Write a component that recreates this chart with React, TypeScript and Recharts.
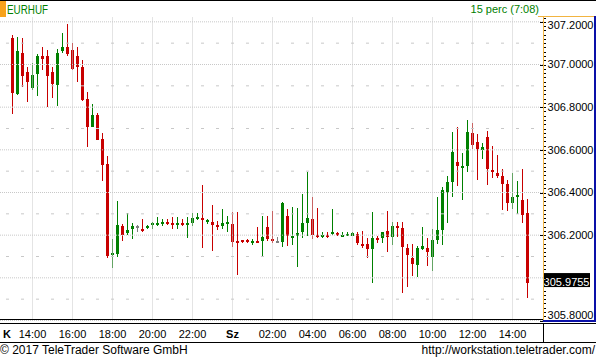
import React from 'react';
import { ComposedChart, Bar, XAxis, YAxis, ReferenceLine } from 'recharts';

// ---- data (EURHUF, 15 min candles, 13:00 .. 14:45 next day) ----
const opens = [
  307.122, 306.861, 307.056, 306.967, 306.888, 306.955, 307.038, 307.038, 306.967, 306.902,
  307.061, 307.080, 307.066, 307.038, 306.988, 306.836, 306.705, 306.763, 306.653, 306.533,
  306.105, 306.114, 306.245, 306.208, 306.227, 306.241, 306.231, 306.236, 306.250, 306.250,
  306.255, 306.264, 306.259, 306.255, 306.255, 306.250, 306.255, 306.281, 306.281, 306.263,
  306.263, 306.250, 306.245, 306.259, 306.253, 306.175, 306.178, 306.178, 306.170, 306.175,
  306.175, 306.239, 306.184, 306.175, 306.166, 306.291, 306.192, 306.198, 306.213, 306.258,
  306.277, 306.203, 306.192, 306.203, 306.206, 306.208, 306.198, 306.200, 306.198, 306.206,
  306.159, 306.159, 306.133, 306.187, 306.187, 306.220, 306.192, 306.244, 306.235, 306.140,
  306.093, 306.060, 306.136, 306.140, 306.098, 306.178, 306.225, 306.404, 306.451, 306.545,
  306.522, 306.526, 306.677, 306.639, 306.597, 306.658, 306.507, 306.493, 306.479, 306.442,
  306.352, 306.380, 306.366, 306.305,
];
const highs = [
  307.136, 307.131, 307.122, 306.986, 307.005, 307.047, 307.084, 307.070, 306.988, 307.075,
  307.150, 307.188, 307.103, 307.080, 307.019, 306.870, 306.817, 306.773, 306.681, 306.569,
  306.184, 306.358, 306.253, 306.302, 306.255, 306.250, 306.278, 306.250, 306.264, 306.283,
  306.278, 306.278, 306.287, 306.287, 306.278, 306.286, 306.305, 306.302, 306.433, 306.277,
  306.342, 306.267, 306.323, 306.291, 306.309, 306.309, 306.178, 306.184, 306.180, 306.239,
  306.291, 306.291, 306.314, 306.192, 306.355, 306.323, 306.333, 306.328, 306.391, 306.497,
  306.381, 306.328, 306.213, 306.213, 306.323, 306.213, 306.213, 306.213, 306.213, 306.213,
  306.220, 306.187, 306.310, 306.197, 306.216, 306.315, 306.263, 306.263, 306.263, 306.159,
  306.159, 306.150, 306.239, 306.187, 306.230, 306.380, 306.427, 306.475, 306.682, 306.705,
  306.587, 306.738, 306.724, 306.672, 306.630, 306.686, 306.616, 306.578, 306.512, 306.460,
  306.493, 306.456, 306.512, 306.371,
];
const lows = [
  306.770, 306.858, 306.894, 306.822, 306.881, 306.850, 306.973, 306.800, 306.845, 306.805,
  307.053, 307.042, 306.972, 306.916, 306.830, 306.611, 306.705, 306.644, 306.456, 306.091,
  306.048, 306.097, 306.172, 306.200, 306.184, 306.213, 306.217, 306.227, 306.231, 306.241,
  306.245, 306.250, 306.231, 306.231, 306.245, 306.189, 306.241, 306.272, 306.142, 306.253,
  306.127, 306.225, 306.231, 306.216, 306.145, 306.011, 306.161, 306.164, 306.156, 306.164,
  306.103, 306.175, 306.161, 306.166, 306.145, 306.147, 306.155, 306.053, 306.189, 306.194,
  306.184, 306.189, 306.186, 306.189, 306.202, 306.194, 306.198, 306.194, 306.194, 306.152,
  306.142, 306.095, 305.977, 306.161, 306.165, 306.123, 306.155, 306.192, 305.929, 305.957,
  306.009, 306.004, 306.131, 306.056, 306.032, 306.159, 306.155, 306.258, 306.380, 306.432,
  306.366, 306.498, 306.606, 306.460, 306.555, 306.437, 306.470, 306.470, 306.319, 306.315,
  306.324, 306.300, 306.258, 305.905,
];
const closes = [
  306.866, 307.061, 306.944, 306.917, 306.953, 307.038, 307.028, 306.944, 306.908, 307.052,
  307.084, 307.047, 306.980, 306.986, 306.834, 306.709, 306.763, 306.647, 306.531, 306.100,
  306.116, 306.250, 306.203, 306.222, 306.241, 306.241, 306.227, 306.245, 306.255, 306.259,
  306.264, 306.255, 306.255, 306.259, 306.250, 306.255, 306.281, 306.286, 306.272, 306.272,
  306.250, 306.245, 306.258, 306.263, 306.170, 306.170, 306.173, 306.169, 306.175, 306.169,
  306.192, 306.184, 306.180, 306.175, 306.350, 306.198, 306.197, 306.211, 306.258, 306.281,
  306.203, 306.192, 306.203, 306.194, 306.213, 306.202, 306.203, 306.206, 306.208, 306.161,
  306.153, 306.133, 306.187, 306.183, 306.216, 306.192, 306.244, 306.235, 306.145, 306.107,
  306.065, 306.140, 306.150, 306.122, 306.178, 306.225, 306.413, 306.451, 306.592, 306.526,
  306.526, 306.682, 306.625, 306.602, 306.611, 306.512, 306.498, 306.475, 306.442, 306.352,
  306.380, 306.390, 306.296, 305.9755,
];

const timeTickIndex = [4, 12, 20, 28, 36, 44, 52, 60, 68, 76, 84, 92, 100];
const timeTickLabels = ['14:00', '16:00', '18:00', '20:00', '22:00', 'Sz', '02:00', '04:00', '06:00', '08:00', '10:00', '12:00', '14:00'];
const priceLabelValues = [307.2, 307.0, 306.8, 306.6, 306.4, 306.2, 305.8];
const priceGridValues = [307.2, 307.0, 306.8, 306.6, 306.4, 306.2, 306.0, 305.8];
const priceHalfGridValues = [307.1, 306.9, 306.7, 306.5, 306.3, 306.1, 305.9];
const symbolName = 'EURHUF';
const intervalText = '15 perc (7:08)';
const copyrightText = '\u00a9 2017 TeleTrader Software GmbH';
const urlText = 'http://workstation.teletrader.com/';
const lastPrice = 305.9755;

const Y_DOMAIN: [number, number] = [305.8, 307.225];
const X_DOMAIN: [number, number] = [-2.5, 106.1];

const GREEN = '#008000';
const RED = '#c80000';
const GRAY = '#808080';
const GRID = '#c8c8c8';
const FONT = '"Liberation Sans", Arial, sans-serif';

const data = opens.map((o, i) => ({ i, open: o, high: highs[i], low: lows[i], close: closes[i] }));

const rightTicks: number[] = [];
for (let j = 0; j <= 71; j++) rightTicks.push(Math.round((305.8 + j * 0.02) * 10000) / 10000);
const leftTicks: number[] = [];
for (let j = 0; j <= 42; j++) leftTicks.push(Math.round((305.8 + j / 30) * 10000) / 10000);

const Candle = (props: any) => {
  const { x, y, width, height, payload } = props;
  if (!payload) return null;
  const { open, high, low, close } = payload;
  const top = Math.min(y, y + height);
  const bot = Math.max(y, y + height);
  const span = high - low;
  const toPx = (v: number) => (span > 0 ? top + ((high - v) / span) * (bot - top) : top);
  const cx = x + width / 2;
  const color = close > open ? GREEN : close < open ? RED : GRAY;
  const bTop = Math.round(toPx(Math.max(open, close)));
  let bBot = Math.round(toPx(Math.min(open, close)));
  if (bBot - bTop < 2) bBot = bTop + 2;
  const wTop = Math.round(top);
  const wBot = Math.max(wTop + 1, Math.round(bot));
  return (
    <g>
      <rect x={cx - 0.5} y={wTop} width={1} height={wBot - wTop} fill={color} />
      <rect x={cx - 1.5} y={bTop} width={3} height={bBot - bTop} fill={color} />
    </g>
  );
};

const RightTick = (p: any) => {
  const v = p.payload.value;
  const yy = Math.round(p.y) + 0.5;
  const isMajor = priceLabelValues.some((l) => Math.abs(l - v) < 1e-6);
  const ax = p.x;
  const ty = Math.max(25, Math.min(315.5, p.y));
  return (
    <g>
      <line x1={ax + (isMajor ? -3 : 0)} x2={ax + 3} y1={yy} y2={yy} stroke="#000" strokeWidth={1} />
      {isMajor && (
        <text x={ax + 50.5} y={ty} dy="0.36em" textAnchor="end" fontSize={11} fontFamily={FONT} fill="#000">
          {v.toFixed(4)}
        </text>
      )}
    </g>
  );
};

const LeftTick = (p: any) => {
  const yy = Math.round(p.y) + 0.5;
  return <line x1={0} x2={4} y1={yy} y2={yy} stroke="#000" strokeWidth={1} />;
};

const XTick = (p: any) => {
  const idx = timeTickIndex.indexOf(p.payload.value);
  const label = idx >= 0 ? timeTickLabels[idx] : '';
  const bold = label === 'Sz';
  return (
    <text x={p.x} y={337.5} textAnchor="middle" fontSize={11} fontFamily={FONT} fontWeight={bold ? 'bold' : 'normal'} fill="#000">
      {label}
    </text>
  );
};

const LastPriceLabel = (props: any) => {
  const vb = props.viewBox || {};
  const right = vb.x + vb.width;
  const py = vb.y;
  return (
    <g>
      <rect x={right + 1} y={py - 10} width={46} height={14} fill="#000" />
      <text x={right + 46.5} y={py + 2.5} textAnchor="end" fontSize={11} fontFamily={FONT} fill="#fff">
        {lastPrice.toFixed(4)}
      </text>
    </g>
  );
};

export default function App() {
  return (
    <div style={{ position: 'absolute', left: 0, top: 0, width: 596, height: 360, background: '#fff', overflow: 'hidden' }}>
      <ComposedChart
        width={596}
        height={360}
        data={data}
        margin={{ top: 16.5, right: 0, bottom: 16.5, left: 0 }}
      >
        <XAxis
          dataKey="i"
          type="number"
          domain={X_DOMAIN}
          allowDataOverflow
          ticks={timeTickIndex}
          interval={0}
          height={23}
          axisLine={false}
          tickLine={false}
          tick={XTick}
        />
        <YAxis
          yAxisId="L"
          orientation="left"
          width={0}
          mirror
          domain={Y_DOMAIN}
          allowDataOverflow
          ticks={leftTicks}
          interval={0}
          axisLine={false}
          tickLine={false}
          tick={LeftTick}
        />
        <YAxis
          yAxisId="R"
          orientation="right"
          width={53}
          domain={Y_DOMAIN}
          allowDataOverflow
          ticks={rightTicks}
          interval={0}
          axisLine={false}
          tickLine={false}
          tickSize={0}
          tickMargin={0}
          tick={RightTick}
        />
        {timeTickIndex.map((t) => (
          <ReferenceLine key={'vx' + t} x={t} yAxisId="R" stroke={GRID} strokeDasharray="1 1" />
        ))}
        {priceGridValues.map((v) => (
          <ReferenceLine key={'hg' + v} y={v} yAxisId="R" stroke={GRID} strokeDasharray="1 1" />
        ))}
        {priceHalfGridValues.map((v) => (
          <ReferenceLine key={'hh' + v} y={v} yAxisId="R" stroke={GRID} strokeDasharray="3 12" strokeDashoffset={-9} />
        ))}
        <Bar
          yAxisId="R"
          dataKey={(d: any) => [d.low, d.high]}
          barSize={3}
          shape={Candle}
          isAnimationActive={false}
        />
        <ReferenceLine y={lastPrice} yAxisId="R" stroke="none" label={<LastPriceLabel />} />
      </ComposedChart>
      <svg width={596} height={360} style={{ position: 'absolute', left: 0, top: 0, pointerEvents: 'none' }}>
        <rect x={0} y={0} width={596} height={1} fill="#000" />
        <rect x={0} y={1} width={6} height={16} fill="#f7a21b" />
        <text x={7} y={13.5} fontSize={12.5} fontFamily={FONT} fill={GREEN} textLength={41} lengthAdjust="spacingAndGlyphs">
          {symbolName}
        </text>
        <text x={539} y={12.5} textAnchor="end" fontSize={11} fontFamily={FONT} fill={GREEN}>
          {intervalText}
        </text>
        <rect x={538} y={16} width={56} height={1} fill="#f2b441" />
        <rect x={543} y={16} width={1} height={305} fill="#f2b441" />
        <rect x={594} y={16} width={2} height={306} fill="#0a10a8" />
        <rect x={543} y={320} width={53} height={2} fill="#0a10a8" />
        <rect x={0} y={319} width={543} height={1} fill="#000" />
        <rect x={0} y={323} width={596} height={1} fill="#000" />
        <rect x={0} y={342} width={596} height={1} fill="#000" />
        <rect x={543} y={323} width={1} height={20} fill="#000" />
        <text x={3} y={337.5} fontSize={11} fontWeight="bold" fontFamily={FONT} fill="#000">K</text>
        <text x={0} y={354} fontSize={12} fontFamily={FONT} fill="#000">{copyrightText}</text>
        <text x={595} y={354} textAnchor="end" fontSize={12} fontFamily={FONT} fill="#000">{urlText}</text>
      </svg>
    </div>
  );
}
